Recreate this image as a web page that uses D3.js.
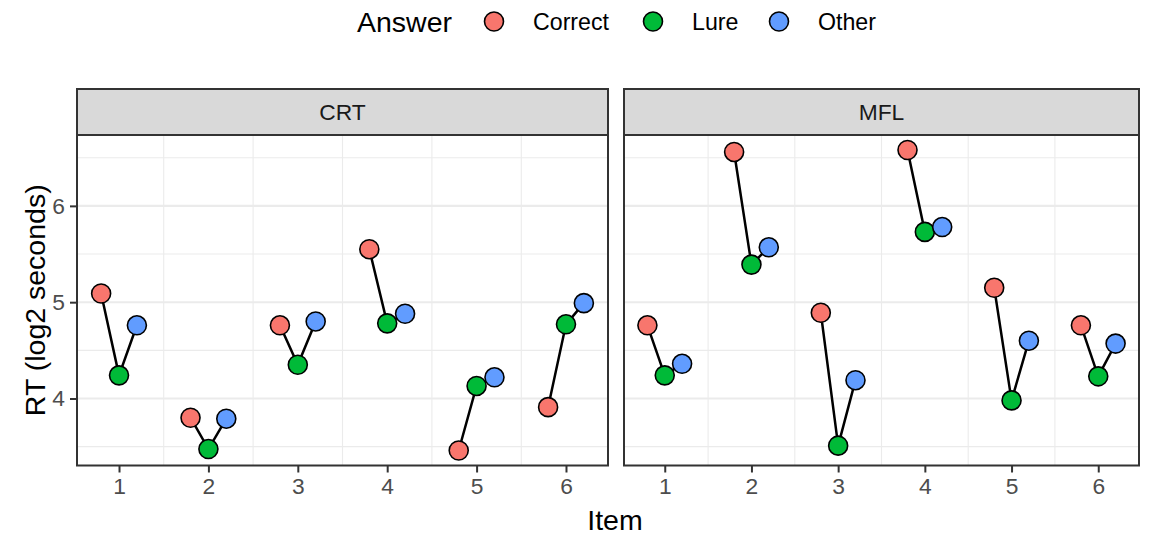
<!DOCTYPE html>
<html>
<head>
<meta charset="utf-8">
<script src="https://cdn.jsdelivr.net/npm/d3@7"></script>
<style>
  html, body { margin: 0; padding: 0; background: #fff; }
  svg { display: block; font-family: "Liberation Sans", Arial, Helvetica, sans-serif; }
</style>
</head>
<body>
<svg id="chart" width="1149" height="538"></svg>
<script>
// ---- Data ----
const tasks = ["CRT", "MFL"];
const items = [1, 2, 3, 4, 5, 6];
const answers = ["Correct", "Lure", "Other"];
const answerColors = ["#F8766D", "#00BA38", "#619CFF"];
const answerOffsets = [-0.2, 0, 0.2];
const yTicks = [4, 5, 6];

// RT (log2 seconds) per item, for each answer
const crtCorrect = [5.09, 3.80, 4.76, 5.55, 3.46, 3.91];
const crtLure    = [4.24, 3.475, 4.35, 4.78, 4.13, 4.77];
const crtOther   = [4.76, 3.79, 4.80, 4.88, 4.22, 4.99];
const mflCorrect = [4.76, 6.56, 4.89, 6.58, 5.15, 4.76];
const mflLure    = [4.24, 5.39, 3.51, 5.73, 3.98, 4.23];
const mflOther   = [4.36, 5.57, 4.19, 5.78, 4.60, 4.57];

const seriesByTask = {
  CRT: [crtCorrect, crtLure, crtOther],
  MFL: [mflCorrect, mflLure, mflOther]
};

// ---- Layout ----
const svg = d3.select("#chart");
const panelTop = 135, panelBottom = 465.5;
const stripTop = 89;
const panels = [{task: "CRT", x0: 77, x1: 608}, {task: "MFL", x0: 624, x1: 1139}];

const allVals = [].concat(crtCorrect, crtLure, crtOther, mflCorrect, mflLure, mflOther);
const [vmin, vmax] = d3.extent(allVals);
const vpad = (vmax - vmin) * 0.05;
const y = d3.scaleLinear().domain([vmin - vpad, vmax + vpad]).range([panelBottom, panelTop]);

const xmin = 1 - 0.2, xmax = 6 + 0.2, xpad = (xmax - xmin) * 0.05;

const gridMajor = "#EBEBEB";
const textGrey = "#4D4D4D";
const borderCol = "#333333";

panels.forEach(p => {
  const x = d3.scaleLinear().domain([xmin - xpad, xmax + xpad]).range([p.x0, p.x1]);
  const g = svg.append("g");

  g.append("rect").attr("x", p.x0).attr("y", panelTop).attr("width", p.x1 - p.x0)
    .attr("height", panelBottom - panelTop).attr("fill", "#fff");

  const yMinor = [3.5, 4.5, 5.5, 6.5].filter(v => v > y.domain()[0] && v < y.domain()[1]);
  g.selectAll(".ymin").data(yMinor).join("line")
    .attr("x1", p.x0).attr("x2", p.x1)
    .attr("y1", d => y(d)).attr("y2", d => y(d))
    .attr("stroke", gridMajor).attr("stroke-width", 1.1);
  const xMinor = [1.5, 2.5, 3.5, 4.5, 5.5];
  g.selectAll(".xmin").data(xMinor).join("line")
    .attr("x1", d => x(d)).attr("x2", d => x(d))
    .attr("y1", panelTop).attr("y2", panelBottom)
    .attr("stroke", gridMajor).attr("stroke-width", 1.1);
  g.selectAll(".ymaj").data(yTicks).join("line")
    .attr("x1", p.x0).attr("x2", p.x1)
    .attr("y1", d => y(d)).attr("y2", d => y(d))
    .attr("stroke", gridMajor).attr("stroke-width", 2.1);

  const series = seriesByTask[p.task];
  items.forEach((it, i) => {
    const pts = answers.map((a, k) => [x(it + answerOffsets[k]), y(series[k][i])]);
    g.append("path").attr("d", d3.line()(pts))
      .attr("fill", "none").attr("stroke", "#000").attr("stroke-width", 2.5);
  });
  items.forEach((it, i) => {
    answers.forEach((a, k) => {
      g.append("circle")
        .attr("cx", x(it + answerOffsets[k])).attr("cy", y(series[k][i]))
        .attr("r", 9.5).attr("fill", answerColors[k])
        .attr("stroke", "#000").attr("stroke-width", 1.6);
    });
  });

  g.append("rect").attr("x", p.x0).attr("y", panelTop).attr("width", p.x1 - p.x0)
    .attr("height", panelBottom - panelTop).attr("fill", "none")
    .attr("stroke", borderCol).attr("stroke-width", 2);

  g.append("rect").attr("x", p.x0).attr("y", stripTop).attr("width", p.x1 - p.x0)
    .attr("height", panelTop - stripTop).attr("fill", "#D9D9D9")
    .attr("stroke", borderCol).attr("stroke-width", 2);
  g.append("text").attr("x", (p.x0 + p.x1) / 2).attr("y", (stripTop + panelTop) / 2)
    .attr("dy", "0.36em").attr("text-anchor", "middle")
    .attr("font-size", 22.8).attr("fill", "#1A1A1A").text(p.task);

  const xAxis = d3.axisBottom(x).tickValues(items).tickSize(7).tickPadding(5).tickFormat(d3.format("d"));
  const ax = g.append("g").attr("transform", `translate(0,${panelBottom})`).call(xAxis);
  ax.select(".domain").remove();
  ax.selectAll(".tick line").attr("stroke", borderCol).attr("stroke-width", 2);
  ax.selectAll(".tick text").attr("fill", textGrey).attr("font-size", 22.8)
    .attr("font-family", "Liberation Sans, Arial, sans-serif");
});

const yAxis = d3.axisLeft(y).tickValues(yTicks).tickSize(7).tickPadding(5).tickFormat(d3.format("d"));
const ay = svg.append("g").attr("transform", `translate(${panels[0].x0},0)`).call(yAxis);
ay.select(".domain").remove();
ay.selectAll(".tick line").attr("stroke", borderCol).attr("stroke-width", 2);
ay.selectAll(".tick text").attr("fill", textGrey).attr("font-size", 22.8)
  .attr("font-family", "Liberation Sans, Arial, sans-serif");

svg.append("text").attr("x", 615).attr("y", 530)
  .attr("text-anchor", "middle").attr("font-size", 28.5).attr("fill", "#000").text("Item");
svg.append("text").attr("transform", `translate(45,${(panelTop + panelBottom) / 2}) rotate(-90)`)
  .attr("text-anchor", "middle").attr("font-size", 28.5).attr("fill", "#000").text("RT (log2 seconds)");

const lg = svg.append("g");
lg.append("text").attr("x", 357).attr("y", 32).attr("font-size", 28.5).attr("fill", "#000").text("Answer");
const legendKeyX = [494, 653, 779];
answers.forEach((a, k) => {
  lg.append("circle").attr("cx", legendKeyX[k]).attr("cy", 21.5).attr("r", 9.5)
    .attr("fill", answerColors[k]).attr("stroke", "#000").attr("stroke-width", 1.6);
  lg.append("text").attr("x", legendKeyX[k] + 39).attr("y", 30)
    .attr("font-size", 23.2).attr("fill", "#000").text(a);
});
</script>
</body>
</html>
